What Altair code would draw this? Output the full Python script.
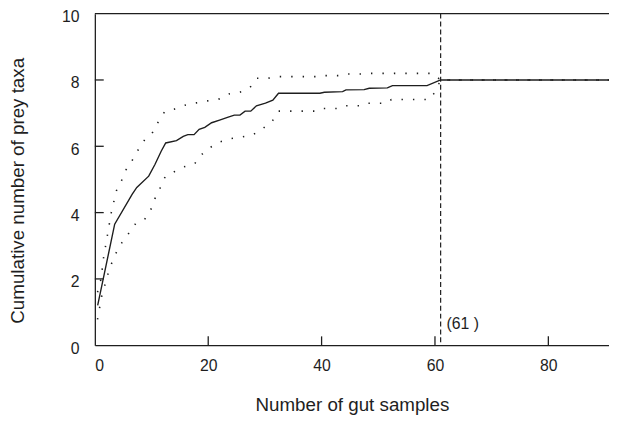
import altair as alt
import pandas as pd

# ---- data ----
mean_x = [0.5, 3.5, 6.6, 7.4, 9.5, 10.6, 11.7, 12.5, 14.4, 15.6, 16.4, 17.5, 18.4, 19.4,
          20.6, 22.0, 23.4, 24.6, 25.6, 26.5, 27.5, 28.5, 30.1, 31.4, 32.4, 39.7, 40.5,
          43.7, 44.3, 47.5, 48.4, 51.6, 52.5, 58.6, 61.0, 91.0]
mean_y = [1.2, 3.65, 4.56, 4.76, 5.1, 5.45, 5.85, 6.1, 6.17, 6.3, 6.35, 6.35, 6.51, 6.57,
          6.71, 6.79, 6.87, 6.94, 6.94, 7.06, 7.06, 7.22, 7.3, 7.39, 7.6, 7.6, 7.63,
          7.65, 7.7, 7.71, 7.75, 7.76, 7.83, 7.83, 8.0, 8.0]

upper_x = [0.47, 1.1, 1.5, 2.2, 2.9, 3.8, 4.7, 5.5, 6.6, 7.6, 8.8, 10.2, 11.2, 12.3, 14.0,
           15.9, 17.9, 19.9, 22.0, 23.7, 25.6, 27.4, 28.5, 30.4, 32.4, 39.0, 40.0, 43.5,
           44.5, 47.5, 48.5, 59.5, 61.0, 91.0]
upper_y = [1.6, 2.0, 2.6, 3.3, 4.0, 4.66, 4.96, 5.29, 5.58, 5.88, 6.2, 6.42, 6.74, 7.04, 7.12,
           7.24, 7.31, 7.37, 7.43, 7.58, 7.63, 7.78, 8.05, 8.05, 8.1, 8.1, 8.13, 8.13,
           8.18, 8.18, 8.2, 8.2, 8.0, 8.0]

lower_x = [0.47, 1.2, 1.76, 2.3, 3.0, 3.8, 4.8, 6.0, 7.2, 8.8, 9.9, 10.6, 11.5, 12.4, 14.0,
           15.7, 17.6, 18.7, 20.2, 22.0, 23.9, 25.9, 27.9, 29.5, 31.3, 32.4, 39.0, 40.0,
           43.0, 44.0, 47.0, 48.0, 51.5, 52.3, 59.0, 60.0, 61.0, 91.0]
lower_y = [0.78, 1.47, 1.81, 2.14, 2.49, 2.8, 3.1, 3.38, 3.67, 3.8, 4.1, 4.42, 4.74, 5.08, 5.23,
           5.38, 5.47, 5.73, 5.95, 6.13, 6.23, 6.28, 6.35, 6.52, 6.76, 7.06, 7.06, 7.14,
           7.14, 7.22, 7.22, 7.3, 7.3, 7.41, 7.41, 7.63, 8.0, 8.0]

x_ticks = [0, 20, 40, 60, 80]
y_ticks = [0, 2, 4, 6, 8, 10]
inner_x_ticks = [20, 40, 60, 80]
inner_y_ticks = [2, 4, 6, 8]
saturation_x = [61]
saturation_label = ["(61  )"]

# ---- layout ----
W, H = 521, 336
X_MAX = 90.7
TICK_LEN = 9
INK = "#1e1e1e"
FONT = "Liberation Sans"

df_mean = pd.DataFrame({"x": mean_x, "y": mean_y})
df_up = pd.DataFrame({"x": upper_x, "y": upper_y})
df_lo = pd.DataFrame({"x": lower_x, "y": lower_y})

xs = alt.Scale(domain=[0, X_MAX], nice=False, zero=False)
ys = alt.Scale(domain=[0, 10], nice=False)

x_axis = alt.Axis(values=x_ticks, title="Number of gut samples", labelPadding=13,
                  titleBaseline="alphabetic", titleY=66)
y_axis = alt.Axis(values=y_ticks, title="Cumulative number of prey taxa", labelPadding=16,
                  labelOffset=3, titleBaseline="alphabetic", titleX=-72, titleY=179)

mean_line = alt.Chart(df_mean).mark_line(color=INK, strokeWidth=1.4, clip=True).encode(
    x=alt.X("x:Q", scale=xs, axis=x_axis),
    y=alt.Y("y:Q", scale=ys, axis=y_axis),
)

upper_line = alt.Chart(df_up).mark_line(color=INK, strokeWidth=1.6, strokeDash=[1.4, 10.2],
                                        clip=True).encode(
    x=alt.X("x:Q", scale=xs), y=alt.Y("y:Q", scale=ys))
lower_line = alt.Chart(df_lo).mark_line(color=INK, strokeWidth=1.6, strokeDash=[1.4, 10.2],
                                        clip=True).encode(
    x=alt.X("x:Q", scale=xs), y=alt.Y("y:Q", scale=ys))

sat_rule = alt.Chart(pd.DataFrame({"x": saturation_x})).mark_rule(
    color=INK, strokeWidth=1.2, strokeDash=[5, 3]).encode(x=alt.X("x:Q", scale=xs))

sat_text = alt.Chart(pd.DataFrame({"x": saturation_x, "y": [0.5], "t": saturation_label})).mark_text(
    align="left", baseline="alphabetic", dx=6, font=FONT, fontSize=16, color=INK).encode(
    x=alt.X("x:Q", scale=xs), y=alt.Y("y:Q", scale=ys), text="t:N")

xt = alt.Chart(pd.DataFrame({"x": inner_x_ticks})).mark_rule(color=INK, strokeWidth=1.3).encode(
    x=alt.X("x:Q", scale=xs), y=alt.value(H), y2=alt.value(H - TICK_LEN))
yt = alt.Chart(pd.DataFrame({"y": inner_y_ticks})).mark_rule(color=INK, strokeWidth=1.3).encode(
    y=alt.Y("y:Q", scale=ys), x=alt.value(0), x2=alt.value(TICK_LEN))

# top spine (the reference has left, bottom and top frame lines only)
top_spine = alt.Chart(pd.DataFrame({"y": [10]})).mark_rule(color=INK, strokeWidth=1.3).encode(
    y=alt.Y("y:Q", scale=ys), x=alt.value(0), x2=alt.value(W))

chart = alt.layer(mean_line, upper_line, lower_line, sat_rule, sat_text, xt, yt, top_spine).properties(
    width=W, height=H,
    autosize=alt.AutoSizeParams(type="none"),
    padding={"left": 88, "top": 3, "right": 0, "bottom": 71},
).configure_axis(
    grid=False, ticks=False, domain=True, domainColor=INK, domainWidth=1.3,
    labelFont=FONT, titleFont=FONT, labelFontSize=16, titleFontSize=19,
    titleFontWeight="normal", labelColor=INK, titleColor=INK,
).configure_view(stroke="transparent")

chart.save("out.html", embed_options={"renderer": "svg", "actions": False})
